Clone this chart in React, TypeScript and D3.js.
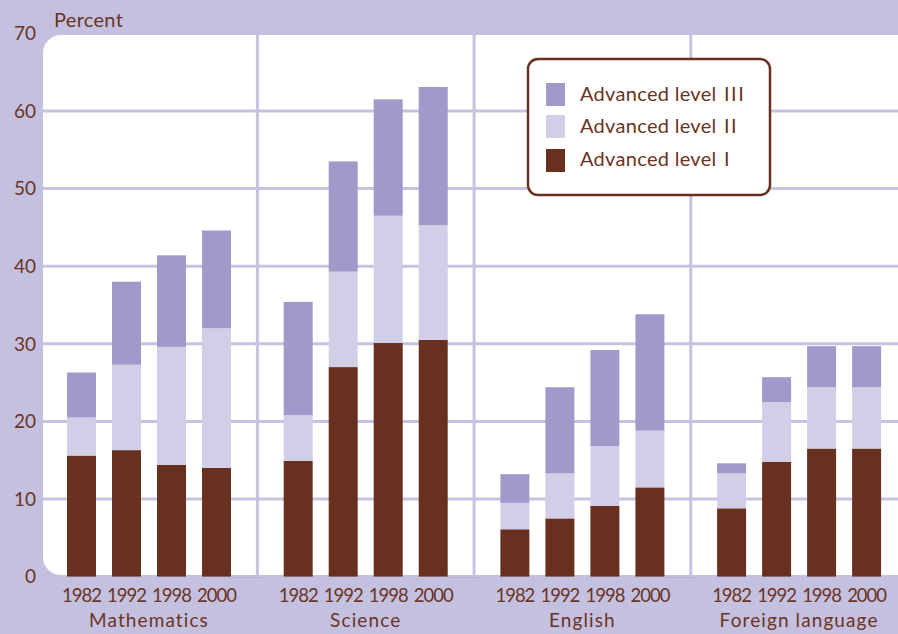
import React from "react";
import * as d3 from "d3";

const subjects = ["Mathematics", "Science", "English", "Foreign language"];
const years = ["1982", "1992", "1998", "2000"];
const levelI = [
  [15.6, 16.3, 14.4, 14.0],
  [14.9, 27.0, 30.1, 30.5],
  [6.1, 7.5, 9.1, 11.5],
  [8.8, 14.8, 16.5, 16.5],
];
const levelII = [
  [4.9, 11.0, 15.2, 18.0],
  [5.9, 12.3, 16.4, 14.8],
  [3.4, 5.8, 7.7, 7.3],
  [4.5, 7.7, 7.9, 7.9],
];
const levelIII = [
  [5.8, 10.7, 11.8, 12.6],
  [14.6, 14.2, 15.0, 17.8],
  [3.7, 11.1, 12.4, 15.0],
  [1.3, 3.2, 5.3, 5.3],
];
const yTicks = [0, 10, 20, 30, 40, 50, 60, 70];
const gridTicks = [10, 20, 30, 40, 50, 60];
const legendItems = [
  { key: "III", label: "Advanced level", roman: "III" },
  { key: "II", label: "Advanced level", roman: "II" },
  { key: "I", label: "Advanced level", roman: "I" },
];

const W = 898;
const H = 634;
const BG = "#c4c0df";
const GRID = "#c7c2e2";
const BROWN = "#68311f";
const TEXT = "#6b3424";
const C3 = "#a099ca";
const C2 = "#d2cee7";
const colors: Record<string, string> = { I: BROWN, II: C2, III: C3 };
const FONT = "Lato, 'Open Sans', sans-serif";

export default function App() {
  const y = d3.scaleLinear().domain([0, 70]).range([576.6, 33.4]);
  const xg = d3.scaleBand().domain(subjects).range([40.7, 907.5]).padding(0);
  const xi = d3
    .scaleBand()
    .domain(years)
    .range([26.3, 190.3])
    .paddingInner(0.356)
    .paddingOuter(0);

  const bars: React.ReactNode[] = [];
  subjects.forEach((s, si) => {
    years.forEach((yr, yi) => {
      const x = (xg(s) as number) + (xi(yr) as number);
      const v1 = levelI[si][yi];
      const v2 = levelII[si][yi];
      const v3 = levelIII[si][yi];
      const segs = [
        { k: "I", a: 0, b: v1 },
        { k: "II", a: v1, b: v1 + v2 },
        { k: "III", a: v1 + v2, b: v1 + v2 + v3 },
      ];
      segs.forEach((g) => {
        bars.push(
          <rect
            key={`${s}-${yr}-${g.k}`}
            x={x}
            y={y(g.b)}
            width={xi.bandwidth()}
            height={y(g.a) - y(g.b)}
            fill={colors[g.k]}
          />
        );
      });
    });
  });

  const vlines = subjects.slice(1).map((s) => xg(s) as number);

  return (
    <svg
      width={W}
      height={H}
      style={{ position: "absolute", left: 0, top: 0, display: "block" }}
      fontFamily={FONT}
    >
      <rect x={0} y={0} width={W} height={H} fill={BG} />
      <rect x={43} y={35} width={875} height={540} rx={18} ry={18} fill="#ffffff" />
      {gridTicks.map((t) => (
        <line key={t} x1={43} x2={W} y1={y(t)} y2={y(t)} stroke={GRID} strokeWidth={3} />
      ))}
      {vlines.map((vx, i) => (
        <g key={i}>
          <line x1={vx} x2={vx} y1={35} y2={577} stroke={GRID} strokeWidth={3} />
          <line x1={vx - 25} x2={vx + 4} y1={577.5} y2={577.5} stroke="#b6aecb" strokeWidth={1} />
        </g>
      ))}
      {bars}
      {yTicks.map((t) => (
        <text
          key={t}
          x={36}
          y={y(t) + 2}
          textAnchor="end"
          dominantBaseline="middle"
          fontSize={19}
          fill={TEXT}
        >
          {t}
        </text>
      ))}
      <text x={54} y={27} fontSize={20} fill={TEXT} letterSpacing={0.3}>
        Percent
      </text>
      {subjects.map((s) =>
        years.map((yr) => (
          <text
            key={`${s}-${yr}-lab`}
            x={(xg(s) as number) + (xi(yr) as number) + xi.bandwidth() / 2}
            y={602}
            textAnchor="middle"
            fontSize={18.5}
            fill={TEXT}
            letterSpacing={-1}
          >
            {yr}
          </text>
        ))
      )}
      {subjects.map((s) => (
        <text
          key={`${s}-sub`}
          x={(xg(s) as number) + 108.3}
          y={627}
          textAnchor="middle"
          fontSize={19}
          fill={TEXT}
          letterSpacing={1.1}
        >
          {s}
        </text>
      ))}
      <g>
        <rect
          x={528}
          y={59}
          width={242}
          height={136}
          rx={10}
          ry={10}
          fill="#ffffff"
          stroke={BROWN}
          strokeWidth={2.5}
        />
        {legendItems.map((it, i) => {
          const ys = [83, 115, 149][i];
          const yb = [101, 133, 166][i];
          return (
            <g key={it.key}>
              <rect x={546} y={ys} width={19} height={23} fill={colors[it.key]} />
              <text x={580} y={yb} fontSize={20} fill={TEXT} letterSpacing={0.3}>
                {it.label}
              </text>
              <text x={724} y={yb} fontSize={20} fill={TEXT} letterSpacing={1.5}>
                {it.roman}
              </text>
            </g>
          );
        })}
      </g>
    </svg>
  );
}
